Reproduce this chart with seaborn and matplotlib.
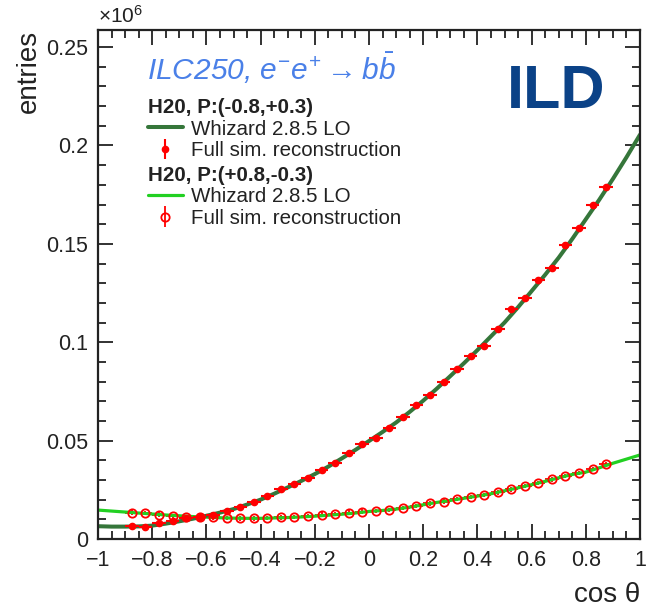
import matplotlib
matplotlib.use("Agg")
import matplotlib.pyplot as plt
import seaborn as sns
import pandas as pd
from matplotlib.lines import Line2D
from matplotlib.ticker import FixedLocator, MultipleLocator

sns.set_style("ticks")
plt.rcParams['font.family'] = ['Liberation Sans', 'DejaVu Sans']
plt.rcParams['mathtext.fontset'] = 'custom'
plt.rcParams['mathtext.rm'] = 'Liberation Sans'
plt.rcParams['mathtext.it'] = 'Liberation Sans:italic'
plt.rcParams['mathtext.bf'] = 'Liberation Sans:bold'

# ---------------- data (y in units of 10^6 entries) -------------
curve_cos = [-1.00, -0.95, -0.90, -0.85, -0.80, -0.75, -0.70, -0.65, -0.60, -0.55,
             -0.50, -0.45, -0.40, -0.35, -0.30, -0.25, -0.20, -0.15, -0.10, -0.05,
             0.00, 0.05, 0.10, 0.15, 0.20, 0.25, 0.30, 0.35, 0.40, 0.45,
             0.50, 0.55, 0.60, 0.65, 0.70, 0.75, 0.80, 0.85, 0.90, 0.95, 1.00]

whizard_left = [0.0065, 0.0063, 0.0063, 0.0064, 0.0068, 0.0078, 0.0090, 0.0103, 0.0118, 0.0134,
                0.0152, 0.0175, 0.0200, 0.0230, 0.0262, 0.0295, 0.0330, 0.0368, 0.0410, 0.0453,
                0.0498, 0.0544, 0.0592, 0.0646, 0.0703, 0.0764, 0.0828, 0.0893, 0.0960, 0.1030,
                0.1100, 0.1178, 0.1260, 0.1343, 0.1430, 0.1525, 0.1625, 0.1725, 0.1830, 0.1940,
                0.2055]

whizard_right = [0.0147, 0.0142, 0.0137, 0.0132, 0.0127, 0.0122, 0.0118, 0.0114, 0.0111, 0.0108,
                 0.0106, 0.0105, 0.0105, 0.0107, 0.0109, 0.0112, 0.0116, 0.0121, 0.0126, 0.0132,
                 0.0140, 0.0145, 0.0152, 0.0162, 0.0174, 0.0186, 0.0196, 0.0207, 0.0218, 0.0230,
                 0.0245, 0.0260, 0.0276, 0.0293, 0.0311, 0.0328, 0.0340, 0.0362, 0.0385, 0.0406,
                 0.0427]

bin_cos = [-0.875, -0.825, -0.775, -0.725, -0.675, -0.625, -0.575, -0.525, -0.475, -0.425,
           -0.375, -0.325, -0.275, -0.225, -0.175, -0.125, -0.075, -0.025, 0.025, 0.075,
           0.125, 0.175, 0.225, 0.275, 0.325, 0.375, 0.425, 0.475, 0.525, 0.575,
           0.625, 0.675, 0.725, 0.775, 0.825, 0.875]

fullsim_left = [0.0064, 0.0063, 0.0080, 0.0093, 0.0105, 0.0113, 0.0124, 0.0140, 0.0164, 0.0190,
                0.0218, 0.0253, 0.0279, 0.0308, 0.0351, 0.0385, 0.0435, 0.0483, 0.0512, 0.0562,
                0.0621, 0.0681, 0.0732, 0.0796, 0.0862, 0.0931, 0.0982, 0.1066, 0.1167, 0.1223,
                0.1316, 0.1375, 0.1496, 0.1579, 0.1697, 0.1790]

fullsim_right = [0.0134, 0.0131, 0.0124, 0.0118, 0.0112, 0.0112, 0.0110, 0.0106, 0.0105, 0.0105,
                 0.0106, 0.0110, 0.0113, 0.0117, 0.0124, 0.0128, 0.0134, 0.0139, 0.0142, 0.0147,
                 0.0156, 0.0168, 0.0181, 0.0190, 0.0203, 0.0212, 0.0224, 0.0237, 0.0252, 0.0269,
                 0.0283, 0.0303, 0.0320, 0.0337, 0.0356, 0.0382]

bin_half_width = 0.025
stat_err = 0.0011

x_ticks = [-1, -0.8, -0.6, -0.4, -0.2, 0, 0.2, 0.4, 0.6, 0.8, 1]
x_tick_labels = ['\u22121', '\u22120.8', '\u22120.6', '\u22120.4', '\u22120.2', '0',
                 '0.2', '0.4', '0.6', '0.8', '1']
y_ticks = [0, 0.05, 0.1, 0.15, 0.2, 0.25]
y_tick_labels = ['0', '0.05', '0.1', '0.15', '0.2', '0.25']

# ---------------- styling ----------------
dark_green = '#35763a'
light_green = '#22d022'
red = '#ff0000'
text_col = '#222222'

fig = plt.figure(figsize=(6.49, 6.09), dpi=100)
ax = fig.add_axes([98 / 649, 1 - 539 / 609, (640 - 98) / 649, (539 - 30) / 609])

curves = pd.DataFrame({'cos': curve_cos, 'left': whizard_left, 'right': whizard_right})
pts = pd.DataFrame({'cos': bin_cos, 'left': fullsim_left, 'right': fullsim_right})

# light (P(+0.8,-0.3)) error bars first, then its curve, then markers
eb_r = ax.errorbar(pts['cos'], pts['right'], xerr=bin_half_width, yerr=stat_err, fmt='o',
                   mfc='none', mec=red, ms=6.0, mew=1.3, ecolor=red, elinewidth=1.3,
                   capsize=0, zorder=4)
for bc in eb_r[2]:
    bc.set_zorder(1.5)

sns.lineplot(data=curves, x='cos', y='right', ax=ax, color=light_green, lw=2.3,
             zorder=2, legend=False)
sns.lineplot(data=curves, x='cos', y='left', ax=ax, color=dark_green, lw=2.9,
             zorder=2.2, legend=False)

ax.errorbar(pts['cos'], pts['left'], xerr=bin_half_width, yerr=stat_err, fmt='o',
            color=red, ms=4.5, elinewidth=1.5, capsize=0, zorder=3)

ax.set_xlim(-1, 1)
ax.set_ylim(0, 0.2587)
ax.xaxis.set_major_locator(FixedLocator(x_ticks))
ax.set_xticklabels(x_tick_labels)
ax.yaxis.set_major_locator(FixedLocator(y_ticks))
ax.set_yticklabels(y_tick_labels)
ax.xaxis.set_minor_locator(MultipleLocator(0.05))
ax.yaxis.set_minor_locator(MultipleLocator(0.01))
ax.tick_params(which='both', direction='in', top=True, right=True, color=text_col,
               labelcolor=text_col, width=1.3)
ax.tick_params(which='major', length=10.5, labelsize=15.5)
ax.tick_params(axis='x', which='major', pad=8)
ax.tick_params(axis='y', which='major', pad=7)
ax.tick_params(which='minor', length=5.5)
for s in ax.spines.values():
    s.set_linewidth(1.6)
    s.set_color(text_col)

ax.set_xlabel('cos \u03b8', fontsize=20, color=text_col, loc='right')
ax.xaxis.set_label_coords(1.0, -0.085)
ax.set_ylabel('entries', fontsize=20, color=text_col, loc='top')
ax.yaxis.set_label_coords(-0.103, 1.0)

ax.text(0.0, 1.006, r'$\times 10^{6}$', transform=ax.transAxes, ha='left', va='bottom',
        fontsize=15, color=text_col)

ax.text(0.090, 0.902, r'ILC250, $e^{-}e^{+} \rightarrow b\bar{b}$', transform=ax.transAxes,
        ha='left', va='baseline', fontsize=21.5, style='italic', color='#4a80e8')
ax.text(0.845, 0.847, 'ILD', transform=ax.transAxes, ha='center', va='baseline',
        fontsize=44, fontweight='bold', color='#0b4287')

# ---------------- legends ----------------
h_line_l = Line2D([], [], color=dark_green, lw=2.9)
h_pts_l = ax.errorbar([], [], yerr=[], fmt='o', color=red, ms=4.5, elinewidth=1.5, capsize=0)
h_line_r = Line2D([], [], color=light_green, lw=2.3)
h_pts_r = ax.errorbar([], [], yerr=[], fmt='o', mfc='none', mec=red, ms=6.0, mew=1.3,
                      ecolor=red, elinewidth=1.3, capsize=0)

leg_fs = 14.8
common = dict(loc='upper left', frameon=False, fontsize=leg_fs, borderpad=0, borderaxespad=0,
              labelspacing=0.12, handlelength=1.7, handletextpad=0.4, alignment='left',
              labelcolor=text_col)
leg1 = ax.legend([h_line_l, h_pts_l], ['Whizard 2.8.5 LO', 'Full sim. reconstruction'],
                 title='H20, P:(-0.8,+0.3)', bbox_to_anchor=(0.092, 0.866),
                 title_fontproperties={'weight': 'bold', 'size': leg_fs}, **common)
leg1.get_title().set_color(text_col)
ax.add_artist(leg1)
leg2 = ax.legend([h_line_r, h_pts_r], ['Whizard 2.8.5 LO', 'Full sim. reconstruction'],
                 title='H20, P:(+0.8,-0.3)', bbox_to_anchor=(0.092, 0.733),
                 title_fontproperties={'weight': 'bold', 'size': leg_fs}, **common)
leg2.get_title().set_color(text_col)

fig.savefig('out.png', dpi=100)
